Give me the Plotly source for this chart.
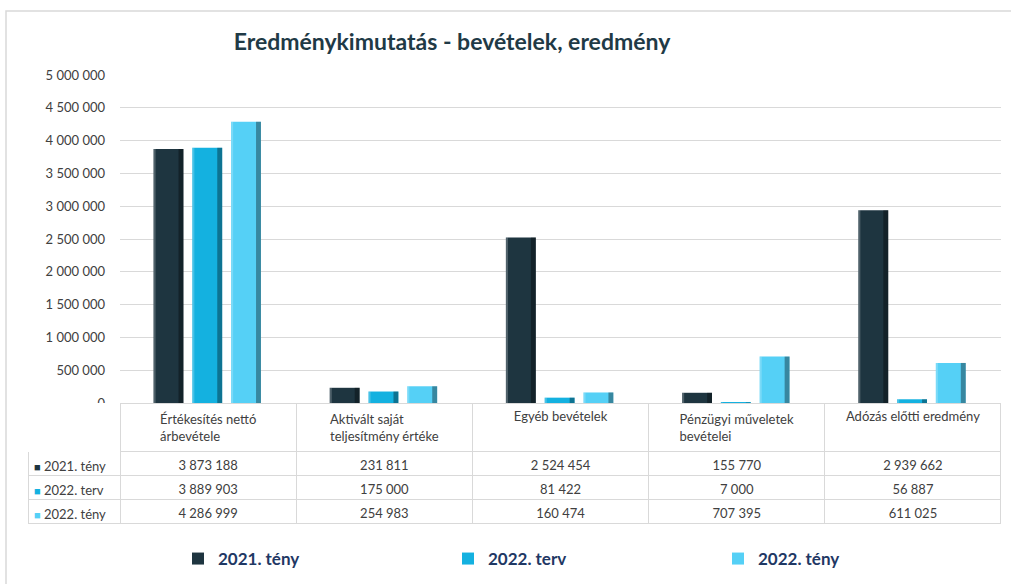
import plotly.graph_objects as go

categories = ["Értékesítés nettó<br>árbevétele", "Aktivált saját<br>teljesítmény értéke",
              "Egyéb bevételek", "Pénzügyi műveletek<br>bevételei", "Adózás előtti eredmény"]
series_names = ["2021. tény", "2022. terv", "2022. tény"]
teny_2021 = [3873188, 231811, 2524454, 155770, 2939662]
terv_2022 = [3889903, 175000, 81422, 7000, 56887]
teny_2022 = [4286999, 254983, 160474, 707395, 611025]
y_ticks = [0, 500000, 1000000, 1500000, 2000000, 2500000, 3000000, 3500000, 4000000, 4500000, 5000000]

series_values = [teny_2021, terv_2022, teny_2022]
colors = ["#1E3540", "#14B1E0", "#55D0F6"]
W, H = 1011, 584
px = lambda v: v / W
py = lambda v: 1 - v / H

xs = list(range(len(categories)))
bar_w = 0.17
offsets = [-0.31, -0.09, 0.13]

fig = go.Figure()
for name, vals, col, off in zip(series_names, series_values, colors, offsets):
    fig.add_trace(go.Bar(x=xs, y=vals, name=name, marker=dict(color=col, line=dict(width=0)),
                         width=bar_w, offset=off, showlegend=True))
    # shading strips for a cylinder-like look
    fig.add_trace(go.Bar(x=xs, y=vals, width=0.028, offset=off + bar_w - 0.028,
                         marker=dict(color="rgba(0,0,0,0.35)", line=dict(width=0)),
                         showlegend=False, hoverinfo="skip"))
    fig.add_trace(go.Bar(x=xs, y=vals, width=0.012, offset=off,
                         marker=dict(color="rgba(255,255,255,0.22)", line=dict(width=0)),
                         showlegend=False, hoverinfo="skip"))

def fmt(v):
    return f"{v:,}".replace(",", " ")

columns = [["", "", ""]] + [[fmt(series_values[s][i]) for s in range(3)]
                            for i in range(len(categories))]

header_h = 44
row_h = 24
fig.add_trace(go.Table(
    domain=dict(x=[px(28), px(1001)], y=[py(535), py(403)]),
    columnwidth=[92, 176, 176, 176, 176, 176],
    header=dict(values=[""] + categories, height=header_h,
                fill_color="white",
                line=dict(color=["rgba(0,0,0,0)"] + ["#d9d9d9"] * 5, width=1),
                font=dict(family="Lato", size=13, color="#404040"), align="center"),
    cells=dict(values=columns, height=row_h, fill_color="white",
               line=dict(color="#d9d9d9", width=1),
               font=dict(family="Lato", size=13, color="#404040"),
               align=["left"] + ["center"] * 5),
))

# row labels (legend keys) inside the table's first column
header_rendered = 48
annotations = []
for i, (c, n) in enumerate(zip(colors, series_names)):
    yc = py(403 + header_rendered + row_h * i + row_h / 2 + 3)
    annotations.append(dict(text=f"<span style='color:{c};font-size:11px'>■</span> {n}",
                            x=px(32), y=yc, xref="paper", yref="paper",
                            xanchor="left", yanchor="middle", showarrow=False,
                            font=dict(family="Lato", size=13, color="#404040")))

fig.update_layout(
    width=W, height=H,
    margin=dict(l=0, r=0, t=0, b=0, autoexpand=False),
    paper_bgcolor="white", plot_bgcolor="white",
    barmode="overlay",
    separators=", ",
    font=dict(family="Lato", color="#404040"),
    title=dict(text="<b>Eredménykimutatás - bevételek, eredmény</b>",
               x=px(452), xanchor="center", y=py(42), yanchor="middle",
               font=dict(family="Lato", size=23, color="#1F3A46")),
    xaxis=dict(domain=[px(120), px(1001)], range=[-0.5, 4.5], showticklabels=False,
               showgrid=False, zeroline=False, showline=False, fixedrange=True,
               automargin=False),
    yaxis=dict(domain=[py(403), py(75)], range=[0, 5000000], tickvals=y_ticks,
               tickformat=",d", showgrid=True, gridcolor="#d9d9d9", gridwidth=1,
               zeroline=False, showline=False, ticklabelstandoff=14, automargin=False,
               fixedrange=True, tickfont=dict(family="Lato", size=13, color="#404040")),
    legend=dict(orientation="h", x=px(178), y=py(559), xanchor="left", yanchor="middle",
                entrywidth=225, entrywidthmode="pixels", itemwidth=30,
                font=dict(family="Lato", size=17, color="#1F3864", weight="bold"),
                traceorder="normal"),
    annotations=annotations,
    shapes=[dict(type="rect", xref="paper", yref="paper", x0=px(6), x1=1.02, y0=-0.02, y1=py(11),
                 line=dict(color="#d9d9d9", width=1.5), fillcolor="rgba(0,0,0,0)", layer="below")],
)

fig.write_html("out.html", config={"displayModeBar": False},
               post_script="document.body.style.margin='0';")
